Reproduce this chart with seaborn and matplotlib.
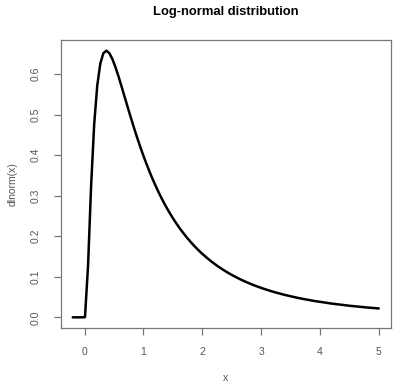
import matplotlib
matplotlib.use("Agg")
import matplotlib.pyplot as plt
import seaborn as sns
import pandas as pd

# values
x_vals = [-0.2, -0.148, -0.096, -0.044, 0.008, 0.06, 0.112, 0.164, 0.216, 0.268,
          0.32, 0.372, 0.424, 0.476, 0.528, 0.58, 0.632, 0.684, 0.736, 0.788,
          0.84, 0.892, 0.944, 0.996, 1.048, 1.1, 1.152, 1.204, 1.256, 1.308,
          1.36, 1.412, 1.464, 1.516, 1.568, 1.62, 1.672, 1.724, 1.776, 1.828,
          1.88, 1.932, 1.984, 2.036, 2.088, 2.14, 2.192, 2.244, 2.296, 2.348,
          2.4, 2.452, 2.504, 2.556, 2.608, 2.66, 2.712, 2.764, 2.816, 2.868,
          2.92, 2.972, 3.024, 3.076, 3.128, 3.18, 3.232, 3.284, 3.336, 3.388,
          3.44, 3.492, 3.544, 3.596, 3.648, 3.7, 3.9, 4.2, 4.5, 4.8, 5.0]
y_vals = [0.0, 0.0, 0.0, 0.0, 0.0004, 0.127, 0.324, 0.475, 0.571, 0.6255,
          0.6514, 0.6577, 0.6511, 0.6363, 0.6162, 0.593, 0.5682, 0.5427, 0.5172, 0.4921,
          0.4678, 0.4443, 0.4219, 0.4005, 0.3802, 0.361, 0.3428, 0.3257, 0.3095, 0.2942,
          0.2798, 0.2662, 0.2534, 0.2413, 0.23, 0.2192, 0.2091, 0.1995, 0.1905, 0.1819,
          0.1739, 0.1662, 0.159, 0.1522, 0.1457, 0.1396, 0.1338, 0.1282, 0.123, 0.118,
          0.1133, 0.1088, 0.1045, 0.1005, 0.0966, 0.0929, 0.0894, 0.0861, 0.0829, 0.0798,
          0.0769, 0.0742, 0.0715, 0.069, 0.0666, 0.0642, 0.062, 0.0599, 0.0579, 0.0559,
          0.0541, 0.0523, 0.0506, 0.0489, 0.0473, 0.0458, 0.0405, 0.0339, 0.0286, 0.0243, 0.0219]
x_ticks = [0, 1, 2, 3, 4, 5]
y_ticks = [0.0, 0.1, 0.2, 0.3, 0.4, 0.5, 0.6]
title = "Log-normal distribution"
xlabel = "x"
ylabel = "dlnorm(x)"

sns.set_style("white")
plt.rcParams['font.family'] = ['Liberation Sans', 'DejaVu Sans']

df = pd.DataFrame({"x": x_vals, "y": y_vals})

fig = plt.figure(figsize=(4.0, 3.9), dpi=100)
ax = fig.add_axes([60.5/400, 1-328/390, 330.5/400, 288/390])
sns.lineplot(data=df, x="x", y="y", ax=ax, color="black", linewidth=1.8,
             sort=False, estimator=None)

xr = max(x_vals) - min(x_vals)
yr = max(y_vals) - min(y_vals)
ax.set_xlim(min(x_vals) - 0.04*xr, max(x_vals) + 0.04*xr)
ax.set_ylim(min(y_vals) - 0.04*yr, max(y_vals) + 0.04*yr)
ax.set_xticks(x_ticks)
ax.set_xticklabels([str(t) for t in x_ticks])
ax.set_yticks(y_ticks)
ax.set_yticklabels([f"{t:.1f}" for t in y_ticks], rotation=90, va="center")

tc = "#555555"
for s in ax.spines.values():
    s.set_visible(True)
    s.set_color("#777777")
    s.set_linewidth(0.9)
ax.tick_params(axis="both", direction="out", length=5, width=0.9, color="#777777",
               labelsize=7.5, labelcolor=tc, bottom=True, left=True)
ax.tick_params(axis="x", pad=8.5)
ax.tick_params(axis="y", pad=9)
ax.set_xlabel(xlabel, fontsize=7.5, color=tc, labelpad=12)
ax.set_ylabel(ylabel, fontsize=7.5, color=tc, labelpad=9.5)
fig.text((60.5+391)/2/400, 1-12/390, title, ha="center", va="center",
         fontsize=9.4, fontweight="bold", color="black")

fig.savefig("out.png", dpi=100)
